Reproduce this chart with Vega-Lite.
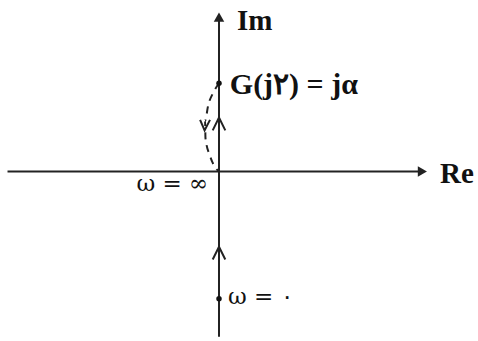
{
  "$schema": "https://vega.github.io/schema/vega-lite/v6.json",
  "width": 478,
  "height": 341,
  "autosize": {"type": "fit", "contains": "padding"},
  "padding": 0,
  "background": "white",
  "config": {"view": {"stroke": null}},
  "datasets": {
    "axes": [
      {"seg": "re", "x": -4.7, "y": 0},
      {"seg": "re", "x": 4.5, "y": 0},
      {"seg": "im", "x": 0, "y": -3.75},
      {"seg": "im", "x": 0, "y": 3.5}
    ],
    "axisHeads": [
      {"x": 4.52, "y": 0, "dir": "right"},
      {"x": 0, "y": 3.5, "dir": "up"}
    ],
    "chevrons": [
      {"id": "up1", "o": 0, "x": -0.14, "y": 0.93},
      {"id": "up1", "o": 1, "x": 0, "y": 1.22},
      {"id": "up1", "o": 2, "x": 0.14, "y": 0.93},
      {"id": "up2", "o": 0, "x": -0.14, "y": -2.0},
      {"id": "up2", "o": 1, "x": 0, "y": -1.71},
      {"id": "up2", "o": 2, "x": 0.14, "y": -2.0},
      {"id": "down", "o": 0, "x": -0.42, "y": 1.17},
      {"id": "down", "o": 1, "x": -0.32, "y": 0.93},
      {"id": "down", "o": 2, "x": -0.2, "y": 1.17}
    ],
    "locus": [
      {"o": 0, "x": 0, "y": 2.0},
      {"o": 1, "x": -0.12, "y": 1.8},
      {"o": 2, "x": -0.24, "y": 1.5},
      {"o": 3, "x": -0.31, "y": 1.15},
      {"o": 4, "x": -0.3, "y": 0.75},
      {"o": 5, "x": -0.2, "y": 0.35},
      {"o": 6, "x": -0.09, "y": 0.1},
      {"o": 7, "x": 0, "y": 0}
    ],
    "dots": [
      {"x": 0, "y": 2.0},
      {"x": 0, "y": -2.89}
    ]
  },
  "layer": [
    {
      "data": {"name": "axes"},
      "mark": {"type": "line", "color": "#222", "strokeWidth": 2},
      "encoding": {
        "x": {"field": "x", "type": "quantitative", "scale": {"domain": [-4.867, 5.756], "nice": false, "zero": false}, "axis": null},
        "y": {"field": "y", "type": "quantitative", "scale": {"domain": [-3.689, 3.889], "nice": false, "zero": false}, "axis": null},
        "detail": {"field": "seg"}
      }
    },
    {
      "data": {"name": "axisHeads"},
      "transform": [{"filter": "datum.dir === 'right'"}],
      "mark": {"type": "point", "shape": "triangle-right", "filled": true, "color": "#222", "size": 110, "opacity": 1},
      "encoding": {
        "x": {"field": "x", "type": "quantitative"},
        "y": {"field": "y", "type": "quantitative"}
      }
    },
    {
      "data": {"name": "axisHeads"},
      "transform": [{"filter": "datum.dir === 'up'"}],
      "mark": {"type": "point", "shape": "triangle-up", "filled": true, "color": "#222", "size": 110, "opacity": 1},
      "encoding": {
        "x": {"field": "x", "type": "quantitative"},
        "y": {"field": "y", "type": "quantitative"}
      }
    },
    {
      "data": {"name": "chevrons"},
      "mark": {"type": "line", "color": "#222", "strokeWidth": 2},
      "encoding": {
        "x": {"field": "x", "type": "quantitative"},
        "y": {"field": "y", "type": "quantitative"},
        "detail": {"field": "id"},
        "order": {"field": "o"}
      }
    },
    {
      "data": {"name": "locus"},
      "mark": {"type": "line", "color": "#222", "strokeWidth": 2, "strokeDash": [7, 6], "interpolate": "monotone"},
      "encoding": {
        "x": {"field": "x", "type": "quantitative"},
        "y": {"field": "y", "type": "quantitative"},
        "order": {"field": "o"}
      }
    },
    {
      "data": {"name": "dots"},
      "mark": {"type": "point", "shape": "circle", "filled": true, "color": "#111", "size": 30, "opacity": 1},
      "encoding": {
        "x": {"field": "x", "type": "quantitative"},
        "y": {"field": "y", "type": "quantitative"}
      }
    },
    {
      "data": {"values": [
        {"t": "Im", "x": 0.4, "y": 3.42},
        {"t": "Re", "x": 4.91, "y": -0.06}
      ]},
      "mark": {"type": "text", "align": "left", "baseline": "middle", "font": "Liberation Serif", "fontWeight": "bold", "fontSize": 29, "color": "#111"},
      "encoding": {
        "x": {"field": "x", "type": "quantitative"},
        "y": {"field": "y", "type": "quantitative"},
        "text": {"field": "t"}
      }
    },
    {
      "data": {"values": [{"t": "G(j۲) = jα", "x": 0.24, "y": 1.97}]},
      "mark": {"type": "text", "align": "left", "baseline": "middle", "font": "Liberation Serif", "fontWeight": "bold", "fontSize": 30, "color": "#111"},
      "encoding": {
        "x": {"field": "x", "type": "quantitative"},
        "y": {"field": "y", "type": "quantitative"},
        "text": {"field": "t"}
      }
    },
    {
      "data": {"values": [{"t": "ω = ∞", "x": -0.24, "y": -0.29}]},
      "mark": {"type": "text", "align": "right", "baseline": "middle", "font": "DejaVu Serif", "fontSize": 23, "color": "#111"},
      "encoding": {
        "x": {"field": "x", "type": "quantitative"},
        "y": {"field": "y", "type": "quantitative"},
        "text": {"field": "t"}
      }
    },
    {
      "data": {"values": [{"t": "ω = ۰", "x": 0.2, "y": -2.84}]},
      "mark": {"type": "text", "align": "left", "baseline": "middle", "font": "DejaVu Serif", "fontSize": 23, "color": "#111"},
      "encoding": {
        "x": {"field": "x", "type": "quantitative"},
        "y": {"field": "y", "type": "quantitative"},
        "text": {"field": "t"}
      }
    }
  ]
}
